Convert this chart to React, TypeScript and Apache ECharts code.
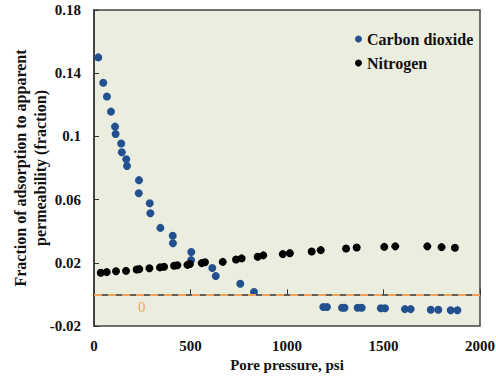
import React, { useEffect, useRef } from "react";
import * as echarts from "echarts";

const co2Pressure = [22, 48, 67, 88, 109, 112, 141, 144, 167, 171, 233, 232, 289, 292, 344, 408, 409, 504, 503, 613, 631, 758, 829,
  1188, 1207, 1285, 1298, 1366, 1387, 1486, 1508, 1611, 1641, 1745, 1784, 1848, 1883];
const co2Fraction = [0.150, 0.134, 0.1253, 0.1157, 0.1062, 0.1015, 0.0955, 0.090, 0.0855, 0.0813, 0.0723, 0.064, 0.0577, 0.0514, 0.0421, 0.0371, 0.0324, 0.0268, 0.0217, 0.0167, 0.0116, 0.0067, 0.0015,
  -0.0080, -0.0080, -0.0084, -0.0084, -0.0085, -0.0085, -0.0088, -0.0088, -0.0093, -0.0093, -0.0097, -0.0097, -0.0100, -0.0100];

const n2Pressure = [35, 66, 114, 166, 221, 235, 287, 342, 363, 415, 432, 484, 497, 558, 575, 667, 736, 765, 848, 877, 978, 1015, 1128, 1175, 1306, 1361, 1504, 1561, 1727, 1801, 1870];
const n2Fraction = [0.0137, 0.0141, 0.0146, 0.0149, 0.0158, 0.016, 0.0165, 0.0171, 0.0175, 0.0181, 0.0184, 0.0187, 0.0192, 0.0198, 0.0203, 0.0206, 0.0221, 0.0228, 0.0238, 0.0247, 0.0255, 0.0261, 0.0272, 0.028, 0.0291, 0.0297, 0.0301, 0.0304, 0.0304, 0.0299, 0.0295];

const yTicks = [-0.02, 0.02, 0.06, 0.1, 0.14, 0.18];
const xTicks = [0, 500, 1000, 1500, 2000];

const FONT = "Liberation Serif";

export default function App() {
  const ref = useRef<HTMLDivElement>(null);
  useEffect(() => {
    const chart = echarts.init(ref.current!, null, { renderer: "svg" });
    const co2 = co2Pressure.map((x, i) => [x, co2Fraction[i]]);
    const n2 = n2Pressure.map((x, i) => [x, n2Fraction[i]]);
    chart.setOption({
      animation: false,
      backgroundColor: "#ffffff",
      grid: {
        left: 94, right: 16, top: 10, bottom: 53,
        outerBoundsMode: "none",
        containLabel: false,
        show: true, backgroundColor: "#EBEEDF", borderColor: "#444444", borderWidth: 1.5,
      },
      legend: {
        orient: "vertical",
        left: 350,
        top: 26,
        itemWidth: 7,
        itemHeight: 7,
        itemGap: 8,
        icon: "circle",
        textStyle: { fontFamily: FONT, fontWeight: "bold", fontSize: 16, color: "#111" },
        data: ["Carbon dioxide", "Nitrogen"],
      },
      xAxis: {
        type: "value",
        min: 0, max: 2000, interval: 500,
        name: "Pore pressure, psi",
        nameLocation: "middle",
        nameGap: 31,
        nameMoveOverlap: false,
        nameTextStyle: { fontFamily: FONT, fontWeight: "bold", fontSize: 15, color: "#111" },
        axisLine: { show: true, lineStyle: { color: "#333", width: 1.5 } },
        axisTick: { show: true, inside: true, length: 5, lineStyle: { color: "#333" }, customValues: xTicks },
        axisLabel: {
          fontFamily: FONT, fontWeight: "bold", fontSize: 15, color: "#111", margin: 12,
          customValues: xTicks,
          formatter: (v: number) => String(v),
        },
        splitLine: { show: false },
      },
      yAxis: {
        type: "value",
        min: -0.02, max: 0.18,
        name: "Fraction of adsorption to apparent\npermeability (fraction)",
        nameLocation: "middle",
        nameGap: 44,
        nameMoveOverlap: false,
        nameTextStyle: { fontFamily: FONT, fontWeight: "bold", fontSize: 16, color: "#111", lineHeight: 20 },
        axisLine: { show: true, lineStyle: { color: "#333", width: 1.5 } },
        axisTick: { show: true, inside: true, length: 5, lineStyle: { color: "#333" }, customValues: yTicks },
        axisLabel: {
          fontFamily: FONT, fontWeight: "bold", fontSize: 15, color: "#111", margin: 13,
          customValues: yTicks,
          formatter: (v: number) => String(Number(v.toFixed(2))),
        },
        splitLine: { show: false },
      },
      series: [
        {
          name: "Carbon dioxide",
          type: "scatter",
          data: co2,
          symbolSize: 8,
          itemStyle: { color: "#23508F", opacity: 1 },
          markLine: {
            silent: true,
            symbol: "none",
            lineStyle: { color: "#F4A25A", type: [8, 6], width: 2 },
            label: {
              show: true,
              position: "insideStartBottom",
              formatter: "0",
              distance: [44, 5],
              color: "#F4A25A",
              fontFamily: FONT,
              fontSize: 15,
            },
            data: [{ yAxis: 0 }],
          },
        },
        {
          name: "Nitrogen",
          type: "scatter",
          data: n2,
          symbolSize: 8,
          itemStyle: { color: "#000000", opacity: 1 },
        },
      ],
    });
    return () => chart.dispose();
  }, []);
  return <div ref={ref} style={{ position: "fixed", left: 0, top: 0, width: 496, height: 379 }} />;
}
